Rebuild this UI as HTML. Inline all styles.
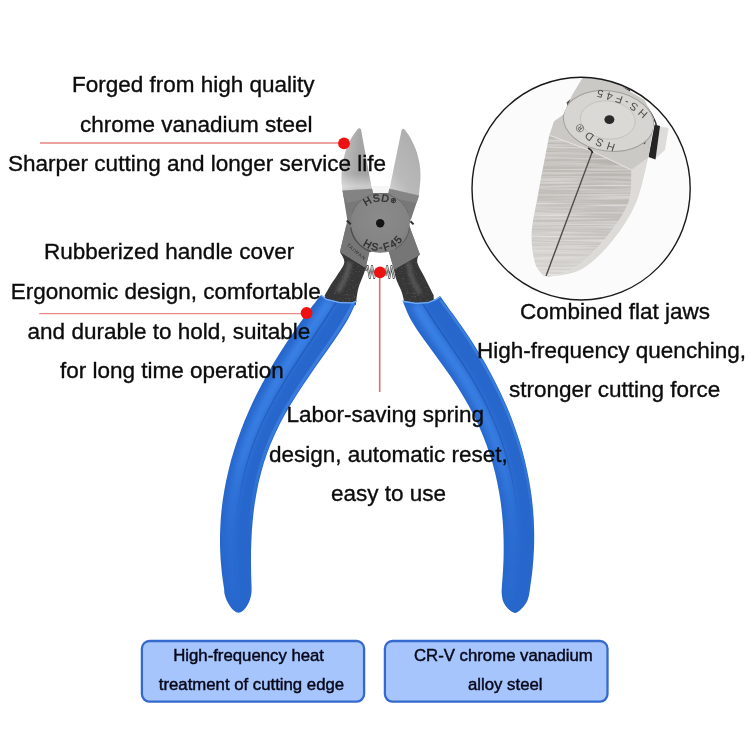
<!DOCTYPE html>
<html><head><meta charset="utf-8"><title>Pliers</title>
<style>
html,body{margin:0;padding:0;background:#fff;}
svg{display:block;will-change:transform;opacity:0.9999}
.m{font-family:"Liberation Sans",Arial,sans-serif;font-size:22.5px;fill:#0c0c0c;stroke:#0c0c0c;stroke-width:0.35px;}
.b{font-family:"Liberation Sans",Arial,sans-serif;font-size:16.75px;fill:#08081a;stroke:#08081a;stroke-width:0.45px;}
.e{font-family:"Liberation Sans",Arial,sans-serif;}
</style></head><body>
<svg width="750" height="750" viewBox="0 0 750 750">
<defs>

<filter id="b1" x="-20%" y="-20%" width="140%" height="140%"><feGaussianBlur stdDeviation="0.7"/></filter>
<filter id="b2" x="-100%" y="-30%" width="300%" height="160%"><feGaussianBlur stdDeviation="1.8"/></filter>
<filter id="b3" x="-50%" y="-20%" width="200%" height="140%"><feGaussianBlur stdDeviation="3"/></filter>
<filter id="brushed" x="0" y="0" width="100%" height="100%"><feTurbulence type="fractalNoise" baseFrequency="0.012 0.55" numOctaves="2" seed="7" result="n"/><feColorMatrix in="n" type="matrix" values="0 0 0 0 1  0 0 0 0 1  0 0 0 0 1  0 0 0 1.6 -0.55"/><feComposite operator="in" in2="SourceGraphic"/></filter>
<filter id="grain" x="0" y="0" width="100%" height="100%"><feTurbulence type="fractalNoise" baseFrequency="0.55" numOctaves="2" seed="3" result="n"/><feColorMatrix in="n" type="matrix" values="0 0 0 0 0.55  0 0 0 0 0.55  0 0 0 0 0.55  0 0 0 -3 1.25"/><feComposite operator="in" in2="SourceGraphic"/></filter>
<radialGradient id="gDisc" cx="0.5" cy="0.42" r="0.6">
<stop offset="0" stop-color="#8b8b8b"/><stop offset="0.75" stop-color="#848484"/><stop offset="1" stop-color="#7b7b7b"/>
</radialGradient>
<linearGradient id="gLJ" x1="0" y1="0.1" x2="1" y2="0.3">
<stop offset="0" stop-color="#c8c8c8"/><stop offset="0.3" stop-color="#b4b4b4"/><stop offset="0.6" stop-color="#a6a6a6"/><stop offset="1" stop-color="#a0a0a0"/>
</linearGradient>
<linearGradient id="gLJ2" x1="0" y1="0" x2="0" y2="1">
<stop offset="0.72" stop-color="#fff" stop-opacity="0"/><stop offset="0.92" stop-color="#fff" stop-opacity="0.45"/><stop offset="1" stop-color="#fff" stop-opacity="0.3"/>
</linearGradient>
<linearGradient id="gRJ" x1="0" y1="1" x2="0.7" y2="0">
<stop offset="0" stop-color="#d6d6d6"/><stop offset="0.35" stop-color="#bababa"/><stop offset="1" stop-color="#adadad"/>
</linearGradient>
<linearGradient id="fhi" gradientUnits="userSpaceOnUse" x1="0" y1="300" x2="0" y2="600">
<stop offset="0" stop-color="#3d84e8"/><stop offset="0.5" stop-color="#3a80e4" stop-opacity="0.9"/><stop offset="0.8" stop-color="#3378dc" stop-opacity="0.35"/><stop offset="1" stop-color="#3378dc" stop-opacity="0.15"/>
</linearGradient>
<linearGradient id="fedge" gradientUnits="userSpaceOnUse" x1="0" y1="300" x2="0" y2="540">
<stop offset="0" stop-color="#3a7ee0"/><stop offset="0.6" stop-color="#3a7ee0" stop-opacity="0.8"/><stop offset="1" stop-color="#3a7ee0" stop-opacity="0"/>
</linearGradient>
<linearGradient id="fseam" gradientUnits="userSpaceOnUse" x1="0" y1="300" x2="0" y2="520">
<stop offset="0" stop-color="#1e56b4" stop-opacity="0.85"/><stop offset="0.75" stop-color="#1e56b4" stop-opacity="0.6"/><stop offset="1" stop-color="#1e56b4" stop-opacity="0"/>
</linearGradient>
<clipPath id="cIn"><ellipse cx="581.1" cy="188.6" rx="109.1" ry="111.4"/></clipPath>
<linearGradient id="gFL" x1="0" y1="0" x2="0" y2="1">
<stop offset="0" stop-color="#bab7b2"/><stop offset="0.6" stop-color="#c5c2be"/><stop offset="1" stop-color="#d8d6d2"/>
</linearGradient>
<linearGradient id="gFR" x1="0" y1="0" x2="0" y2="1">
<stop offset="0" stop-color="#b5b2ad"/><stop offset="0.6" stop-color="#c3c0bc"/><stop offset="1" stop-color="#d6d4d0"/>
</linearGradient>
<pattern id="brush" width="6" height="3" patternUnits="userSpaceOnUse"><rect width="6" height="3" fill="none"/><rect y="0" width="6" height="1" fill="#fff" opacity="0.045"/><rect y="2" width="6" height="0.7" fill="#000" opacity="0.02"/></pattern>

</defs>
<rect width="750" height="750" fill="#fff"/>

<g id="inset">
<ellipse cx="581.1" cy="188.6" rx="109.1" ry="111.4" fill="#fbfbfb"/>
<g clip-path="url(#cIn)">
<path d="M658 126 L668.5 128 L665 150 L655 159 Z" fill="#dddcda"/>
<path d="M654.6 124.6 L660 126 L655.5 159.6 L648.5 157 Z" fill="#242424"/>
<path d="M630.7 93.3 Q645 102 651.5 114 T655.5 126" stroke="#2a2a2a" stroke-width="1.4" fill="none"/>
<path d="M622.6 87 l7.6 3 l-0.6 4 l-7.8 -3.4 Z" fill="#1c1c1c"/>
<path d="M631.5 170.0 C631.0 175.5 632.4 191.9 628.3 203.0 C624.2 214.1 615.3 226.1 606.7 236.7 C598.1 247.3 586.5 260.0 576.7 266.7 C566.9 273.4 552.8 275.3 548.0 277.0 C553.7 275.7 571.2 275.2 582.0 269.0 C592.8 262.8 604.0 251.0 613.0 240.0 C622.0 229.0 630.1 216.7 636.0 203.0 C641.9 189.3 646.2 165.2 648.3 157.7 Z" fill="#dddbd7"/>
<path d="M584.0 70.0 L582.4 78.0 L572.3 94.7 L568.5 103.0 L563.3 114.8 L554.0 121.3 L549.3 135.3 L592.4 151.3 L631.5 170.0 L648.3 157.7 L653.9 124.0 L653.9 118.5 L644.5 99.9 L624.0 87.7 L610.0 72.0 Z" fill="#cbc9c5"/>
<path d="M570.5 99 l-4 3.6 l1.2 3.4 Z M640 141 l6 -1.6 l-1 5 Z" fill="#55534f"/>
<clipPath id="cTop"><path d="M584.0 70.0 L582.4 78.0 L572.3 94.7 L568.5 103.0 L563.3 114.8 L554.0 121.3 L549.3 135.3 L592.4 151.3 L631.5 170.0 L648.3 157.7 L653.9 124.0 L653.9 118.5 L644.5 99.9 L624.0 87.7 L610.0 72.0 Z"/></clipPath>
<g clip-path="url(#cTop)"><ellipse cx="608.6" cy="121" rx="45.5" ry="30" transform="rotate(8 608.6 121)" fill="#d6d5d2" stroke="#a19f9b" stroke-width="1"/></g>
<ellipse cx="607.8" cy="120" rx="27.5" ry="19" transform="rotate(6 607.8 120)" fill="#dad9d6" stroke="#c0beba" stroke-width="0.8"/>
<ellipse cx="609.4" cy="119.6" rx="5" ry="4.3" fill="#2a2a2a"/>
<path d="M549.3 135.3 C547.5 145.0 541.2 177.0 538.3 193.3 C535.4 209.6 532.2 221.7 531.7 233.3 C531.2 244.9 533.0 255.8 535.0 263.0 C537.0 270.2 542.5 274.2 544.0 276.5 L546 275.5 L592 151.3 Z" fill="url(#gFL)"/>
<path d="M631.5 170.0 C631.0 175.5 632.4 191.9 628.3 203.0 C624.2 214.1 615.3 226.1 606.7 236.7 C598.1 247.3 586.5 260.0 576.7 266.7 C566.9 273.4 552.8 275.3 548.0 277.0 L546.5 275.5 L593 151.6 Z" fill="url(#gFR)"/>
<path d="M549.3 135.3 C547.5 145.0 541.2 177.0 538.3 193.3 C535.4 209.6 532.2 221.7 531.7 233.3 C531.2 244.9 533.0 255.8 535.0 263.0 C537.0 270.2 542.5 274.2 544.0 276.5 L546 275.5 L592 151.3 Z" fill="#fff" filter="url(#brushed)" opacity="0.55"/>
<path d="M631.5 170.0 C631.0 175.5 632.4 191.9 628.3 203.0 C624.2 214.1 615.3 226.1 606.7 236.7 C598.1 247.3 586.5 260.0 576.7 266.7 C566.9 273.4 552.8 275.3 548.0 277.0 L546.5 275.5 L593 151.6 Z" fill="#fff" filter="url(#brushed)" opacity="0.55"/>
<path d="M549.3 135.3 L592.4 151.3 L631.5 170" stroke="#e2e0dc" stroke-width="1.2" fill="none"/>
<path d="M592.4 151.5 L546 276" stroke="#4e4b47" stroke-width="1.4" fill="none"/>
<path d="M588 148 Q592 150 592.6 153" stroke="#2a2a2a" stroke-width="1.5" fill="none"/>
<path id="inTop" d="M652.0 121.0 C650.9 119.3 648.9 114.3 645.4 110.9 C641.9 107.5 635.9 103.3 631.0 100.5 C626.1 97.7 622.2 96.3 616.2 94.3 C610.2 92.3 600.2 89.6 595.2 88.5 C590.2 87.4 587.5 87.8 586.0 87.6" fill="none"/>
<path id="inBot" d="M620.0 144.8 C618.6 144.5 614.7 143.9 611.4 142.8 C608.1 141.8 603.6 140.2 600.1 138.5 C596.6 136.8 593.6 134.9 590.3 132.3 C586.9 129.7 582.5 125.7 580.0 123.0 C577.5 120.3 576.2 117.2 575.5 116.0" fill="none"/>
<text class="e" font-size="11" letter-spacing="3.6" fill="#4c4a47"><textPath href="#inTop" startOffset="50%" text-anchor="middle">HS-F45</textPath></text>
<text class="e" font-size="11" letter-spacing="3.6" fill="#4c4a47"><textPath href="#inBot" startOffset="50%" text-anchor="middle">HSD®</textPath></text>
</g>
<ellipse cx="581.1" cy="188.6" rx="109.1" ry="111.4" fill="none" stroke="#1a1a1a" stroke-width="1.4"/>
</g>


<g id="pliers">
<path d="M340.1 252.0 C340.8 253.8 344.7 258.7 344.3 262.5 C343.9 266.3 339.8 270.9 337.5 274.7 C335.2 278.4 332.8 281.5 330.6 285.0 C328.5 288.5 325.6 293.8 324.6 295.5 L326 304 L344 308 L355.7 305 C356.1 302.2 357.0 293.6 358.3 288.5 C359.6 283.4 362.1 278.5 363.5 274.7 C364.9 270.9 366.4 267.0 367.0 265.5 Z" fill="#363636"/>
<path d="M419.5 253.0 C419.1 254.6 416.5 258.6 417.3 262.5 C418.1 266.4 421.5 271.0 424.2 276.4 C426.9 281.8 432.0 291.9 433.6 295.0 L434 304 L420 308 L405.1 305 C404.5 302.8 403.1 296.2 401.7 292.0 C400.3 287.8 397.9 283.9 396.5 279.9 C395.1 275.9 394.0 270.0 393.5 268.0 Z" fill="#363636"/>
<path d="M340.1 252.0 C340.8 253.8 344.7 258.7 344.3 262.5 C343.9 266.3 339.8 270.9 337.5 274.7 C335.2 278.4 332.8 281.5 330.6 285.0 C328.5 288.5 325.6 293.8 324.6 295.5 L326 304 L344 308 L355.7 305 C356.1 302.2 357.0 293.6 358.3 288.5 C359.6 283.4 362.1 278.5 363.5 274.7 C364.9 270.9 366.4 267.0 367.0 265.5 Z" fill="#000" filter="url(#grain)" opacity="0.3"/>
<path d="M419.5 253.0 C419.1 254.6 416.5 258.6 417.3 262.5 C418.1 266.4 421.5 271.0 424.2 276.4 C426.9 281.8 432.0 291.9 433.6 295.0 L434 304 L420 308 L405.1 305 C404.5 302.8 403.1 296.2 401.7 292.0 C400.3 287.8 397.9 283.9 396.5 279.9 C395.1 275.9 394.0 270.0 393.5 268.0 Z" fill="#000" filter="url(#grain)" opacity="0.3"/>
<path d="M350.0 262.0 C349.3 264.3 348.0 271.0 346.0 276.0 C344.0 281.0 339.3 289.3 338.0 292.0" stroke="#666" stroke-width="5" fill="none" filter="url(#b2)" opacity="0.7"/>
<path d="M408.0 262.0 C408.7 264.7 410.0 272.7 412.0 278.0 C414.0 283.3 418.7 291.3 420.0 294.0" stroke="#666" stroke-width="5" fill="none" filter="url(#b2)" opacity="0.6"/>
<path d="M372 186 L389.3 186 L389 194 L372.5 194 Z" fill="#f6f6f6"/>
<path d="M357.5 129.5 C356.6 130.8 353.6 134.5 352.0 137.0 C350.4 139.5 349.2 142.0 348.0 144.7 C346.8 147.4 345.8 150.1 345.0 153.0 C344.2 155.9 343.5 159.2 343.0 162.0 C342.5 164.8 342.1 167.1 341.8 170.0 C341.6 172.9 341.5 176.6 341.5 179.3 C341.5 182.0 341.8 184.0 342.0 186.0 C342.2 188.0 342.4 190.6 342.5 191.5 L372 190 L361 129.5 Q359.3 127 357.5 129.5 Z" fill="url(#gLJ)"/>
<path d="M357.5 129.5 C356.6 130.8 353.6 134.5 352.0 137.0 C350.4 139.5 349.2 142.0 348.0 144.7 C346.8 147.4 345.8 150.1 345.0 153.0 C344.2 155.9 343.5 159.2 343.0 162.0 C342.5 164.8 342.1 167.1 341.8 170.0 C341.6 172.9 341.5 176.6 341.5 179.3 C341.5 182.0 341.8 184.0 342.0 186.0 C342.2 188.0 342.4 190.6 342.5 191.5 L372 190 L361 129.5 Q359.3 127 357.5 129.5 Z" fill="url(#gLJ2)"/>
<path d="M405.0 130.0 C405.7 131.0 407.8 133.6 409.3 136.0 C410.8 138.4 412.5 141.9 413.8 144.7 C415.1 147.5 416.1 150.1 417.0 153.0 C417.9 155.9 418.6 159.2 419.2 162.0 C419.8 164.8 420.1 167.1 420.3 170.0 C420.5 172.9 420.5 176.3 420.4 179.3 C420.3 182.3 419.9 185.1 419.6 188.0 C419.3 190.9 418.9 195.5 418.8 197.0 L389.3 190 L401.6 130 Q403.3 127.4 405 130 Z" fill="url(#gRJ)"/>
<path d="M342.5 190.5 L372.0 188.8 L373.0 193.0 L388.5 193.0 L389.3 188.8 L419.0 195.5 L411.7 217.3 L410.0 221.0 L409.0 225.0 L420.0 254.7 L394.0 269.6 L388.8 251.5 L369.5 251.5 L365.6 267.7 L339.9 251.9 L346.4 224.8 L347.3 220.0 Z" fill="#787878"/>
<path d="M342.5 190.6 L372 189.2 M389.3 189.4 L419 196" stroke="#e4e4e4" stroke-width="1" fill="none" opacity="0.8"/>
<path d="M346.4 224.8 L339.9 251.9 L365.6 267.7 L369.5 251.5 L388.8 251.5 L394 269.6 L420 254.7 L409 225 L405 238 A30 30 0 0 1 355.5 238 Z" fill="#767676"/>
<path d="M342.5 190.5 L372 188.8 L373 193 L365 199 L347 203 L343.6 197 Z" fill="#838383"/>
<path d="M389.3 188.8 L419 195.5 L416.5 203 L398 199 L388.5 193 Z" fill="#858585"/>
<circle cx="380.2" cy="223.2" r="29.6" fill="url(#gDisc)"/>
<path d="M350.69 227.35 A29.80 29.80 0 0 0 370.99 251.54" stroke="#4c4c4c" stroke-width="1.3" fill="none"/>
<path d="M409.71 227.35 A29.80 29.80 0 0 1 395.10 249.01" stroke="#5c5c5c" stroke-width="1" fill="none"/>
<path d="M352.20 213.01 A29.80 29.80 0 0 1 408.20 213.01" stroke="#6a6a6a" stroke-width="0.8" fill="none"/>
<path d="M346.8 220.6 L350.8 224.2 M410.4 221.2 L413.6 224.4" stroke="#2e2e2e" stroke-width="2" fill="none"/>
<circle cx="380.2" cy="223.2" r="4.2" fill="#141414"/>
<path id="arcTop" d="M358.40 223.20 A21.80 21.80 0 0 1 402.00 223.20" fill="none"/>
<path id="arcBot" d="M352.40 223.20 A27.80 27.80 0 0 0 408.00 223.20" fill="none"/>
<text class="e" font-size="10.5" letter-spacing="0.7" fill="#2e2e2e" stroke="#2e2e2e" stroke-width="0.35"><textPath href="#arcTop" startOffset="49.5%" text-anchor="middle">HSD<tspan font-size="7" dy="-2">®</tspan></textPath></text>
<text class="e" font-size="10.5" letter-spacing="1.7" fill="#2e2e2e" stroke="#2e2e2e" stroke-width="0.35"><textPath href="#arcBot" startOffset="55%" text-anchor="middle">HS-F45</textPath></text>
<text class="e" font-size="4.8" letter-spacing="0.85" fill="#2c2c2c" transform="translate(346.4 245.6) rotate(40)">TAIWAN</text>
<path d="M365.8 271 l1.8 -5 l2.2 12 l2.2 -12 l2.2 12 l1.4 -8 M385.4 276 l1.7 -10 l2.2 12 l2.2 -12 l2.2 12 l1 -5" stroke="#3c3c3c" stroke-width="2" fill="none" stroke-linejoin="round"/>
<path d="M365.8 271 l1.8 -5 l2.2 12 l2.2 -12 l2.2 12 l1.4 -8 M385.4 276 l1.7 -10 l2.2 12 l2.2 -12 l2.2 12 l1 -5" stroke="#e8e8e8" stroke-width="0.8" fill="none" stroke-linejoin="round"/>
</g>


<g id="handles">
<clipPath id="cL"><path d="M321.2 294.8 C318.8 297.9 311.5 307.2 306.8 313.6 C302.1 320.0 297.3 326.7 292.8 333.2 C288.4 339.7 284.1 346.3 280.0 352.8 C275.9 359.3 272.0 365.9 268.3 372.4 C264.6 378.9 261.1 385.5 257.8 392.0 C254.5 398.5 251.4 405.1 248.6 411.6 C245.7 418.1 243.0 424.7 240.6 431.2 C238.1 437.7 235.9 444.3 233.9 450.8 C231.8 457.3 230.0 463.9 228.5 470.4 C226.9 476.9 225.5 483.5 224.4 490.0 C223.2 496.5 222.3 503.1 221.6 509.6 C220.9 516.1 220.5 522.7 220.2 529.2 C220.0 535.7 219.9 542.3 220.1 548.8 C220.3 555.3 220.7 561.9 221.4 568.4 C222.0 574.9 223.4 583.7 224.0 588.0 C224.5 592.3 224.1 591.9 224.6 594.0 C225.1 596.1 225.8 598.5 226.7 600.5 C227.6 602.5 228.8 604.3 229.9 605.9 C231.0 607.5 232.0 608.9 233.2 610.0 C234.4 611.1 236.0 612.3 237.3 612.6 C238.6 612.9 239.8 612.5 241.0 612.0 C242.2 611.5 243.2 610.7 244.2 609.6 C245.2 608.5 246.3 607.2 247.2 605.6 C248.1 604.0 249.1 601.9 249.8 600.0 C250.5 598.1 251.0 596.0 251.3 594.0 C251.6 592.0 251.6 592.2 251.6 588.0 C251.5 583.8 251.1 575.2 251.1 568.8 C251.0 562.4 251.0 556.0 251.1 549.6 C251.3 543.2 251.5 536.8 251.9 530.4 C252.4 524.0 252.9 517.6 253.7 511.2 C254.5 504.8 255.5 498.4 256.7 492.0 C257.9 485.6 259.3 479.2 261.1 472.8 C262.8 466.4 264.7 460.0 267.0 453.6 C269.3 447.2 271.8 440.8 274.8 434.4 C277.7 428.0 281.0 421.6 284.5 415.2 C288.1 408.8 292.0 402.4 296.0 396.0 C300.1 389.6 304.4 383.2 308.8 376.8 C313.1 370.4 317.7 364.0 322.2 357.6 C326.7 351.2 331.3 344.8 335.6 338.4 C339.9 332.0 344.4 325.5 347.9 319.2 C351.4 312.9 355.3 303.5 356.8 300.4 L352 302.2 L340 302 L326.4 298.8 Z"/></clipPath>
<clipPath id="cR"><path d="M402.4 300.6 C403.8 303.9 407.5 313.7 411.0 320.1 C414.6 326.6 419.3 332.9 423.7 339.3 C428.1 345.6 433.1 352.0 437.7 358.4 C442.3 364.8 447.0 371.2 451.3 377.5 C455.6 383.9 459.7 390.3 463.5 396.7 C467.3 403.0 470.8 409.4 474.0 415.8 C477.1 422.2 480.1 428.6 482.7 434.9 C485.3 441.3 487.6 447.7 489.7 454.1 C491.8 460.4 493.6 466.8 495.2 473.2 C496.7 479.6 498.0 486.0 499.1 492.3 C500.3 498.7 501.1 505.1 501.8 511.5 C502.5 517.8 503.0 524.2 503.3 530.6 C503.6 537.0 503.7 543.4 503.7 549.7 C503.7 556.1 503.5 562.5 503.1 568.9 C502.8 575.2 502.1 583.8 501.8 588.0 C501.6 592.2 501.6 591.9 501.8 594.0 C502.0 596.1 502.2 598.5 502.8 600.5 C503.4 602.5 504.5 604.3 505.7 605.9 C506.9 607.5 508.3 609.1 509.8 610.3 C511.3 611.5 513.4 612.8 514.8 613.0 C516.2 613.2 517.0 612.4 518.0 611.8 C519.0 611.2 519.9 610.3 521.0 609.3 C522.1 608.3 523.3 607.1 524.4 605.6 C525.5 604.1 526.6 602.4 527.4 600.5 C528.2 598.6 528.8 596.1 529.2 594.0 C529.6 591.9 529.5 592.3 530.1 588.0 C530.7 583.7 532.0 574.9 532.6 568.4 C533.3 561.9 533.7 555.3 534.0 548.8 C534.2 542.3 534.3 535.7 534.1 529.2 C534.0 522.7 533.6 516.1 533.0 509.6 C532.5 503.1 531.7 496.5 530.7 490.0 C529.7 483.5 528.5 476.9 527.1 470.4 C525.7 463.9 524.1 457.3 522.3 450.8 C520.5 444.3 518.5 437.7 516.2 431.2 C514.0 424.7 511.5 418.1 508.9 411.6 C506.2 405.1 503.3 398.5 500.2 392.0 C497.1 385.5 493.8 378.9 490.3 372.4 C486.8 365.9 483.0 359.3 479.0 352.8 C475.1 346.3 470.9 339.7 466.5 333.2 C462.1 326.7 457.0 319.8 452.6 313.6 C448.2 307.4 442.1 298.9 440.0 296.0 L436 298.8 L428 302 L416 302.8 Z"/></clipPath>
<path d="M321.2 294.8 C318.8 297.9 311.5 307.2 306.8 313.6 C302.1 320.0 297.3 326.7 292.8 333.2 C288.4 339.7 284.1 346.3 280.0 352.8 C275.9 359.3 272.0 365.9 268.3 372.4 C264.6 378.9 261.1 385.5 257.8 392.0 C254.5 398.5 251.4 405.1 248.6 411.6 C245.7 418.1 243.0 424.7 240.6 431.2 C238.1 437.7 235.9 444.3 233.9 450.8 C231.8 457.3 230.0 463.9 228.5 470.4 C226.9 476.9 225.5 483.5 224.4 490.0 C223.2 496.5 222.3 503.1 221.6 509.6 C220.9 516.1 220.5 522.7 220.2 529.2 C220.0 535.7 219.9 542.3 220.1 548.8 C220.3 555.3 220.7 561.9 221.4 568.4 C222.0 574.9 223.4 583.7 224.0 588.0 C224.5 592.3 224.1 591.9 224.6 594.0 C225.1 596.1 225.8 598.5 226.7 600.5 C227.6 602.5 228.8 604.3 229.9 605.9 C231.0 607.5 232.0 608.9 233.2 610.0 C234.4 611.1 236.0 612.3 237.3 612.6 C238.6 612.9 239.8 612.5 241.0 612.0 C242.2 611.5 243.2 610.7 244.2 609.6 C245.2 608.5 246.3 607.2 247.2 605.6 C248.1 604.0 249.1 601.9 249.8 600.0 C250.5 598.1 251.0 596.0 251.3 594.0 C251.6 592.0 251.6 592.2 251.6 588.0 C251.5 583.8 251.1 575.2 251.1 568.8 C251.0 562.4 251.0 556.0 251.1 549.6 C251.3 543.2 251.5 536.8 251.9 530.4 C252.4 524.0 252.9 517.6 253.7 511.2 C254.5 504.8 255.5 498.4 256.7 492.0 C257.9 485.6 259.3 479.2 261.1 472.8 C262.8 466.4 264.7 460.0 267.0 453.6 C269.3 447.2 271.8 440.8 274.8 434.4 C277.7 428.0 281.0 421.6 284.5 415.2 C288.1 408.8 292.0 402.4 296.0 396.0 C300.1 389.6 304.4 383.2 308.8 376.8 C313.1 370.4 317.7 364.0 322.2 357.6 C326.7 351.2 331.3 344.8 335.6 338.4 C339.9 332.0 344.4 325.5 347.9 319.2 C351.4 312.9 355.3 303.5 356.8 300.4 L352 302.2 L340 302 L326.4 298.8 Z" fill="#2767cc"/>
<g clip-path="url(#cL)" fill="none">
<path d="M330.6 300.0 C328.0 303.8 320.2 315.4 315.0 323.1 C309.8 330.8 304.5 338.5 299.4 346.2 C294.4 353.8 289.3 361.5 284.6 369.2 C279.9 376.9 275.3 384.6 271.1 392.3 C266.9 400.0 262.9 407.7 259.3 415.4 C255.7 423.1 252.4 430.8 249.5 438.5 C246.6 446.2 244.0 453.8 241.8 461.5 C239.6 469.2 237.8 476.9 236.2 484.6 C234.7 492.3 233.4 500.0 232.5 507.7 C231.6 515.4 231.0 523.1 230.6 530.8 C230.3 538.5 230.2 546.2 230.5 553.8 C230.7 561.5 231.2 569.2 231.9 576.9 C232.6 584.6 234.3 596.2 234.8 600.0" stroke="url(#fhi)" stroke-width="10" filter="url(#b3)"/>
<path d="M335.7 303.0 C333.9 305.8 328.6 314.1 325.0 319.7 C321.3 325.3 317.6 330.8 313.8 336.4 C310.1 341.9 306.3 347.5 302.6 353.1 C298.9 358.6 295.3 364.2 291.7 369.8 C288.2 375.3 284.7 380.9 281.5 386.5 C278.2 392.0 275.0 397.6 272.0 403.2 C269.0 408.7 266.1 414.3 263.5 419.8 C260.9 425.4 258.4 431.0 256.2 436.5 C254.0 442.1 252.0 447.7 250.1 453.2 C248.3 458.8 246.7 464.4 245.2 469.9 C243.7 475.5 242.5 481.1 241.4 486.6 C240.3 492.2 239.4 497.7 238.6 503.3 C237.8 508.9 237.0 517.2 236.7 520.0" stroke="url(#fseam)" stroke-width="1.3" filter="url(#b1)"/>
<path d="M353.6 303.0 C351.9 306.0 347.2 315.2 343.5 321.2 C339.8 327.3 335.7 333.4 331.7 339.5 C327.6 345.5 323.2 351.6 319.0 357.7 C314.8 363.8 310.5 369.8 306.4 375.9 C302.3 382.0 298.2 388.1 294.4 394.2 C290.6 400.2 286.8 406.3 283.4 412.4 C280.1 418.5 276.9 424.5 274.0 430.6 C271.2 436.7 268.6 442.8 266.3 448.8 C264.1 454.9 262.1 461.0 260.3 467.1 C258.5 473.2 257.1 479.2 255.7 485.3 C254.4 491.4 253.4 497.5 252.5 503.5 C251.6 509.6 250.9 515.7 250.4 521.8 C249.8 527.8 249.4 537.0 249.2 540.0" stroke="url(#fedge)" stroke-width="3" filter="url(#b1)"/>
<path d="M321.4 295 L326.4 299 L340 302.2 L352 302.4 L356.8 300.6" stroke="#74adf6" stroke-width="2.2" filter="url(#b1)"/>
</g>
<path d="M402.4 300.6 C403.8 303.9 407.5 313.7 411.0 320.1 C414.6 326.6 419.3 332.9 423.7 339.3 C428.1 345.6 433.1 352.0 437.7 358.4 C442.3 364.8 447.0 371.2 451.3 377.5 C455.6 383.9 459.7 390.3 463.5 396.7 C467.3 403.0 470.8 409.4 474.0 415.8 C477.1 422.2 480.1 428.6 482.7 434.9 C485.3 441.3 487.6 447.7 489.7 454.1 C491.8 460.4 493.6 466.8 495.2 473.2 C496.7 479.6 498.0 486.0 499.1 492.3 C500.3 498.7 501.1 505.1 501.8 511.5 C502.5 517.8 503.0 524.2 503.3 530.6 C503.6 537.0 503.7 543.4 503.7 549.7 C503.7 556.1 503.5 562.5 503.1 568.9 C502.8 575.2 502.1 583.8 501.8 588.0 C501.6 592.2 501.6 591.9 501.8 594.0 C502.0 596.1 502.2 598.5 502.8 600.5 C503.4 602.5 504.5 604.3 505.7 605.9 C506.9 607.5 508.3 609.1 509.8 610.3 C511.3 611.5 513.4 612.8 514.8 613.0 C516.2 613.2 517.0 612.4 518.0 611.8 C519.0 611.2 519.9 610.3 521.0 609.3 C522.1 608.3 523.3 607.1 524.4 605.6 C525.5 604.1 526.6 602.4 527.4 600.5 C528.2 598.6 528.8 596.1 529.2 594.0 C529.6 591.9 529.5 592.3 530.1 588.0 C530.7 583.7 532.0 574.9 532.6 568.4 C533.3 561.9 533.7 555.3 534.0 548.8 C534.2 542.3 534.3 535.7 534.1 529.2 C534.0 522.7 533.6 516.1 533.0 509.6 C532.5 503.1 531.7 496.5 530.7 490.0 C529.7 483.5 528.5 476.9 527.1 470.4 C525.7 463.9 524.1 457.3 522.3 450.8 C520.5 444.3 518.5 437.7 516.2 431.2 C514.0 424.7 511.5 418.1 508.9 411.6 C506.2 405.1 503.3 398.5 500.2 392.0 C497.1 385.5 493.8 378.9 490.3 372.4 C486.8 365.9 483.0 359.3 479.0 352.8 C475.1 346.3 470.9 339.7 466.5 333.2 C462.1 326.7 457.0 319.8 452.6 313.6 C448.2 307.4 442.1 298.9 440.0 296.0 L436 298.8 L428 302 L416 302.8 Z" fill="#2767cc"/>
<g clip-path="url(#cR)" fill="none">
<path d="M415.3 304.0 C417.7 307.8 424.3 319.2 429.3 326.8 C434.2 334.4 439.7 341.9 444.9 349.5 C450.1 357.1 455.6 364.7 460.5 372.3 C465.4 379.9 470.1 387.5 474.3 395.1 C478.5 402.7 482.4 410.3 485.9 417.8 C489.4 425.4 492.5 433.0 495.3 440.6 C498.0 448.2 500.4 455.8 502.5 463.4 C504.5 471.0 506.2 478.6 507.6 486.2 C509.1 493.7 510.1 501.3 511.0 508.9 C511.8 516.5 512.3 524.1 512.6 531.7 C512.9 539.3 512.9 546.9 512.7 554.5 C512.4 562.1 512.0 569.6 511.4 577.2 C510.7 584.8 509.3 596.2 508.8 600.0" stroke="url(#fhi)" stroke-width="10" filter="url(#b3)"/>
<path d="M423.0 304.0 C424.8 306.8 430.0 315.1 433.6 320.6 C437.2 326.2 441.0 331.7 444.8 337.2 C448.5 342.8 452.4 348.3 456.1 353.8 C459.8 359.4 463.5 364.9 467.0 370.5 C470.4 376.0 473.8 381.5 476.9 387.1 C480.1 392.6 483.0 398.2 485.8 403.7 C488.5 409.2 491.1 414.8 493.5 420.3 C495.9 425.8 498.1 431.4 500.1 436.9 C502.1 442.5 504.0 448.0 505.6 453.5 C507.3 459.1 508.8 464.6 510.1 470.2 C511.4 475.7 512.5 481.2 513.5 486.8 C514.5 492.3 515.3 497.8 516.0 503.4 C516.7 508.9 517.3 517.2 517.6 520.0" stroke="url(#fseam)" stroke-width="1.3" filter="url(#b1)"/>
<path d="M440.1 300.0 C442.4 303.1 449.4 312.3 453.9 318.5 C458.3 324.6 462.5 330.8 466.6 336.9 C470.7 343.1 474.6 349.2 478.3 355.4 C482.1 361.5 485.6 367.7 488.9 373.8 C492.3 380.0 495.4 386.2 498.4 392.3 C501.3 398.5 504.1 404.6 506.7 410.8 C509.2 416.9 511.6 423.1 513.8 429.2 C516.0 435.4 517.9 441.5 519.7 447.7 C521.5 453.8 523.1 460.0 524.6 466.2 C526.0 472.3 527.2 478.5 528.2 484.6 C529.3 490.8 530.1 496.9 530.8 503.1 C531.5 509.2 532.0 515.4 532.3 521.5 C532.6 527.7 532.6 536.9 532.7 540.0" stroke="url(#fedge)" stroke-width="2.5" filter="url(#b1)"/>
<path d="M402.4 300.8 L416 303 L428 302.2 L436 299 L440 296.2" stroke="#74adf6" stroke-width="2.2" filter="url(#b1)"/>
</g>
</g>


<g id="lines">
<path d="M40 143 H344" stroke="#e88484" stroke-width="1.6"/>
<path d="M39.2 313.6 H306" stroke="#e68a8a" stroke-width="1.15"/>
<path d="M379.7 272 V392" stroke="#dc6e6e" stroke-width="1.6"/>
<circle cx="344" cy="143.4" r="5.9" fill="#ee1111"/>
<circle cx="306.6" cy="313" r="5.9" fill="#ee1111"/>
<circle cx="380" cy="272.4" r="5.9" fill="#ee1111"/>
</g>


<g id="boxes">
<rect x="141.9" y="641" width="222.2" height="60.6" rx="7.5" fill="#a5c5fc" stroke="#356acd" stroke-width="2.3"/>
<rect x="384.9" y="641" width="222.6" height="60.6" rx="7.5" fill="#a5c5fc" stroke="#356acd" stroke-width="2.3"/>
</g>

<text x="72" y="92" class="m">Forged from high quality</text>
<text x="80" y="131.5" class="m">chrome vanadium steel</text>
<text x="8" y="170.7" class="m" style="font-size:22.52px">Sharper cutting and longer service life</text>
<text x="44" y="258.7" class="m">Rubberized handle cover</text>
<text x="10.7" y="299.2" class="m">Ergonomic design, comfortable</text>
<text x="27.6" y="338.6" class="m">and durable to hold, suitable</text>
<text x="60" y="377.8" class="m">for long time operation</text>
<text x="286.4" y="422" class="m">Labor-saving spring</text>
<text x="269" y="461.6" class="m">design, automatic reset,</text>
<text x="331" y="501.4" class="m">easy to use</text>
<text x="520" y="319" class="m">Combined flat jaws</text>
<text x="477" y="358" class="m">High-frequency quenching,</text>
<text x="509" y="397" class="m">stronger cutting force</text>
<text x="173.2" y="660.6" class="b">High-frequency heat</text>
<text x="158.8" y="689.9" class="b">treatment of cutting edge</text>
<text x="414" y="661" class="b">CR-V chrome vanadium</text>
<text x="468" y="690" class="b">alloy steel</text>

</svg>
</body></html>
